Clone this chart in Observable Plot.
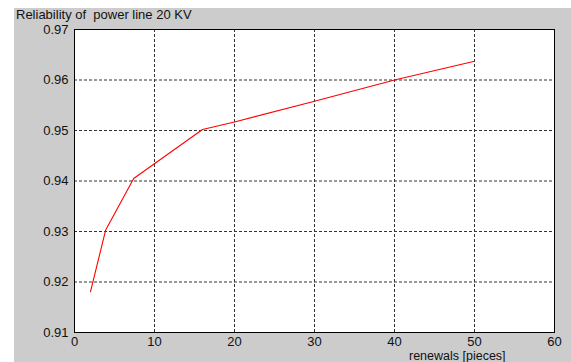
<!DOCTYPE html>
<html>
<head>
<meta charset="utf-8">
<script src="https://cdn.jsdelivr.net/npm/d3@7"></script>
<script src="https://cdn.jsdelivr.net/npm/@observablehq/plot@0.6"></script>
<style>
  html, body { margin: 0; padding: 0; background: #ffffff; }
  #wrap { position: relative; width: 571px; height: 362px; overflow: hidden; font-family: "Liberation Sans", Arial, sans-serif; }
  #bg { position: absolute; left: 14px; top: 8px; width: 557px; height: 354px; background: #cccccc; }
  #chart { position: absolute; left: 0; top: 0; }
  #title { position: absolute; left: 16px; top: 7px; font-size: 13px; color: #111; white-space: pre; line-height: 15px; }
  #xlabel { position: absolute; left: 409px; top: 350px; font-size: 12.5px; color: #111; white-space: pre; line-height: 12px; }
</style>
</head>
<body>
<div id="wrap">
  <div id="bg"></div>
  <div id="chart"></div>
  <div id="title">Reliability of  power line 20 KV</div>
  <div id="xlabel">renewals [pieces]</div>
</div>
<script>
const renewals = [2, 3.9, 7.4, 16, 20, 30, 40, 50];
const reliability = [0.9181, 0.9303, 0.9405, 0.9502, 0.9517, 0.9558, 0.9600, 0.9637];
const xTicks = [0, 10, 20, 30, 40, 50, 60];
const yTicks = [0.91, 0.92, 0.93, 0.94, 0.95, 0.96, 0.97];

const data = renewals.map((x, i) => ({x, y: reliability[i]}));

const chart = Plot.plot({
  width: 571,
  height: 362,
  marginLeft: 74,
  marginRight: 17,
  marginTop: 29,
  marginBottom: 30,
  style: { background: "transparent", fontFamily: "'Liberation Sans', Arial, sans-serif", color: "#111" },
  x: { domain: [0, 60] },
  y: { domain: [0.91, 0.97] },
  marks: [
    Plot.frame({ fill: "white" }),
    Plot.ruleX(xTicks.slice(1, -1), { stroke: "#333", strokeDasharray: "3,2", strokeWidth: 1 }),
    Plot.ruleY(yTicks.slice(1, -1), { stroke: "#333", strokeDasharray: "3,2", strokeWidth: 1 }),
    Plot.line(data, { x: "x", y: "y", stroke: "#ff0000", strokeWidth: 1.1 }),
    Plot.frame({ stroke: "#000", strokeWidth: 1 }),
    Plot.axisX({ ticks: xTicks, tickSize: 0, tickPadding: 4, fontSize: 13, label: null, tickFormat: d3.format("d") }),
    Plot.axisY({ ticks: yTicks, tickSize: 0, tickPadding: 6, fontSize: 13, label: null, tickFormat: d3.format(".2f") })
  ]
});
document.getElementById("chart").appendChild(chart);
</script>
</body>
</html>
